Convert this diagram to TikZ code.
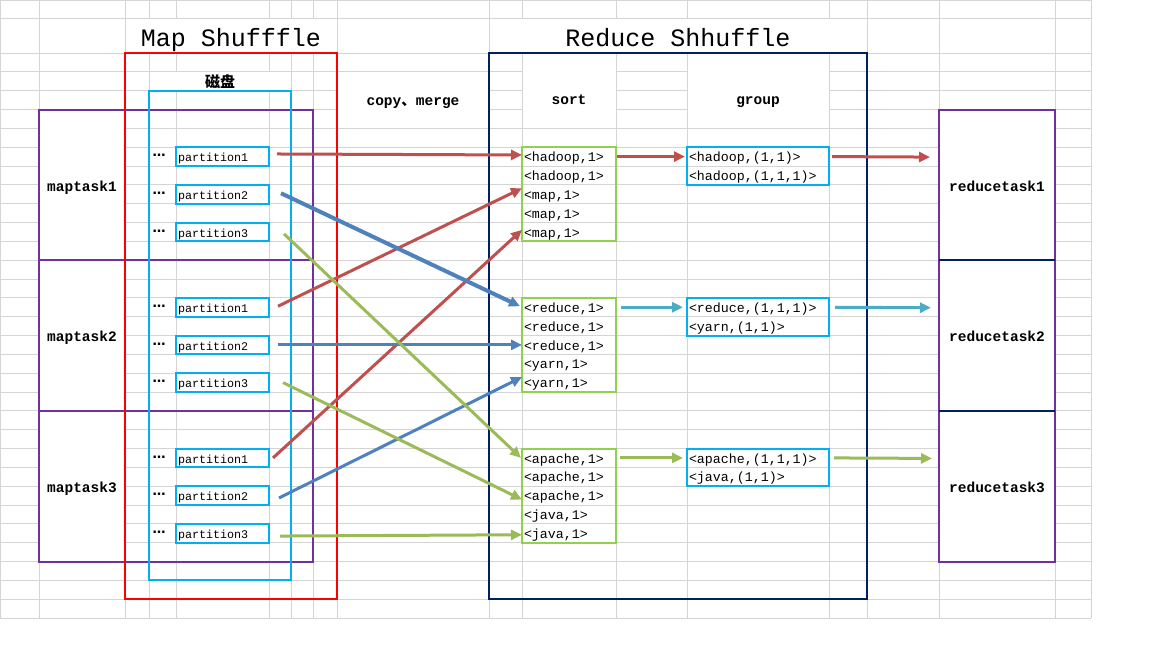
\documentclass[tikz,border=0pt]{standalone}
\usepackage{fontspec}
\setmainfont{Liberation Mono}
\newfontfamily\cjk{Noto Sans CJK SC}
\newfontfamily\dejavu{DejaVu Sans}
\usetikzlibrary{arrows.meta,calc}
\definecolor{gridc}{HTML}{D4D4D4}
\definecolor{boxred}{HTML}{FF0000}
\definecolor{boxcyan}{HTML}{00B0F0}
\definecolor{boxpurple}{HTML}{7030A0}
\definecolor{boxnavy}{HTML}{002060}
\definecolor{boxgreen}{HTML}{92D050}
\definecolor{arrred}{HTML}{C0504D}
\definecolor{arrblue}{HTML}{4F81BD}
\definecolor{arrgreen}{HTML}{9BBB59}
\definecolor{arrteal}{HTML}{4BACC6}
\newcommand{\rowy}[1]{(53+18.8333*(#1))}
\tikzset{
  gridline/.style={draw=gridc, line width=1pt},
  bigbox/.style={anchor=north west, line width=2pt, outer sep=0pt, inner sep=0pt},
  part/.style={draw=boxcyan, line width=2pt, anchor=north west, outer sep=0pt,
    minimum width=93pt, minimum height=18.83pt, text width=89pt, align=left,
    inner xsep=2pt, inner ysep=0pt, text height=10.2pt, text depth=0pt,
    font=\fontsize{11.7}{12}\selectfont},
  sortrow/.style={anchor=north west, outer sep=0pt, minimum height=18.83pt,
    text width=90pt, align=left, inner xsep=2pt, inner ysep=0pt,
    text height=10.2pt, text depth=0pt, font=\fontsize{13.3}{14}\selectfont},
  grouprow/.style={sortrow, text width=138pt},
  dotsnode/.style={anchor=base west, inner sep=0pt, font=\dejavu\bfseries\fontsize{13}{14}\selectfont},
  lab/.style={anchor=base, inner sep=0pt, font=\bfseries\fontsize{14.5}{16}\selectfont},
  ttl/.style={anchor=base, inner sep=0pt, font=\fontsize{25}{30}\selectfont},
  arr/.style={-{Triangle[length=11pt,width=10pt]}, line width=3pt},
}
\begin{document}
\begin{tikzpicture}[x=1pt,y=-1pt]
\useasboundingbox (0,0) rectangle (1152,648);
\fill[white] (0,0) rectangle (1152,648);
% spreadsheet grid
\foreach \x in {0,39,125,149,176,269,291,313,337,489,522,616,687,829,867,939,1055,1091}
  \draw[gridline] (\x,0) -- (\x,618);
\draw[gridline] (0,0) -- (1091,0);
\draw[gridline] (0,18) -- (1091,18);
\foreach \k in {0,...,30}
  \draw[gridline] (0,{\rowy{\k}}) -- (1091,{\rowy{\k}});
% merged cells
\fill[white] (125.5,18.5) rectangle (336.5,52.5);
\fill[white] (489.5,18.5) rectangle (866.5,52.5);
\fill[white] (149.5,{\rowy{1}+0.5}) rectangle (290.5,{\rowy{2}-0.5});
\fill[white] (337.5,{\rowy{1}+0.5}) rectangle (488.5,{\rowy{4}-0.5});
\fill[white] (522.5,53.5) rectangle (615.5,{\rowy{4}-0.5});
\fill[white] (687.5,53.5) rectangle (828.5,{\rowy{4}-0.5});
\foreach \r in {3,11,19} {
  \fill[white] (39.5,{\rowy{\r}+0.5}) rectangle (124.5,{\rowy{\r+8}-0.5});
  \fill[white] (939.5,{\rowy{\r}+0.5}) rectangle (1054.5,{\rowy{\r+8}-0.5});
}
% maptask boxes
\node[bigbox, draw=boxpurple, minimum width=274pt, minimum height=150.67pt] (mt1) at (39,{\rowy{3}}) {};
\node[bigbox, draw=boxpurple, minimum width=274pt, minimum height=150.67pt] (mt2) at (39,{\rowy{11}}) {};
\node[bigbox, draw=boxpurple, minimum width=274pt, minimum height=150.67pt] (mt3) at (39,{\rowy{19}}) {};
% map shuffle and disk boxes
\node[bigbox, draw=boxred, minimum width=212pt, minimum height=546.17pt] (mapsh) at (125,53) {};
\node[bigbox, draw=boxcyan, minimum width=142pt, minimum height=489.67pt] (disk) at (149,{\rowy{2}}) {};
% reduce shuffle box
\node[bigbox, draw=boxnavy, minimum width=378pt, minimum height=546.17pt] (redsh) at (489,53) {};
% reducetask boxes
\node[bigbox, draw=boxpurple, minimum width=116pt, minimum height=150.67pt] (rt1) at (939,{\rowy{3}}) {};
\node[bigbox, draw=boxpurple, minimum width=116pt, minimum height=150.67pt] (rt2) at (939,{\rowy{11}}) {};
\node[bigbox, draw=boxpurple, minimum width=116pt, minimum height=150.67pt] (rt3) at (939,{\rowy{19}}) {};
\draw[draw=boxnavy, line width=2pt] (rt1.south west) -- (rt1.south east);
\draw[draw=boxnavy, line width=2pt] (rt2.south west) -- (rt2.south east);
% sort and group boxes
\node[bigbox, draw=boxgreen, minimum width=94pt, minimum height=94.17pt] (sb1) at (522,{\rowy{5}}) {};
\node[bigbox, draw=boxgreen, minimum width=94pt, minimum height=94.17pt] (sb2) at (522,{\rowy{13}}) {};
\node[bigbox, draw=boxgreen, minimum width=94pt, minimum height=94.17pt] (sb3) at (522,{\rowy{21}}) {};
\node[bigbox, draw=boxcyan, minimum width=142pt, minimum height=37.67pt] (gb1) at (687,{\rowy{5}}) {};
\node[bigbox, draw=boxcyan, minimum width=142pt, minimum height=37.67pt] (gb2) at (687,{\rowy{13}}) {};
\node[bigbox, draw=boxcyan, minimum width=142pt, minimum height=37.67pt] (gb3) at (687,{\rowy{21}}) {};
% titles and labels
\node[ttl] (t1) at (231,46.5) {Map Shufffle};
\node[ttl] (t2) at (678,46.5) {Reduce Shhuffle};
\node[inner sep=0pt, font=\cjk\bfseries\fontsize{15}{16}\selectfont] (disklab) at (220,81.5) {磁盘};
\node[lab] (cm) at (413,105) {copy{\cjk 、}merge};
\node[lab] (sortlab) at (569,104.5) {sort};
\node[lab] (grouplab) at (758,104.5) {group};
\node[lab] (mt1l) at (82,{\rowy{3}+81.5}) {maptask1};
\node[lab] (mt2l) at (82,{\rowy{11}+81.5}) {maptask2};
\node[lab] (mt3l) at (82,{\rowy{19}+81.5}) {maptask3};
\node[lab] (rt1l) at (997,{\rowy{3}+81.5}) {reducetask1};
\node[lab] (rt2l) at (997,{\rowy{11}+81.5}) {reducetask2};
\node[lab] (rt3l) at (997,{\rowy{19}+81.5}) {reducetask3};
% partitions
\foreach \i/\r in {1/5,2/13,3/21} {
  \node[part] (p\i1) at (176,{\rowy{\r}}) {partition1};
  \node[part] (p\i2) at (176,{\rowy{\r+2}}) {partition2};
  \node[part] (p\i3) at (176,{\rowy{\r+4}}) {partition3};
  \foreach \j in {0,2,4}
    \node[dotsnode] (d\i\j) at (152.5,{\rowy{\r+\j}+9.5}) {…};
}
% sort rows
\node[sortrow] (s1r1) at (522,{\rowy{5}}) {<hadoop,1>};
\node[sortrow] (s1r2) at (522,{\rowy{6}}) {<hadoop,1>};
\node[sortrow] (s1r3) at (522,{\rowy{7}}) {<map,1>};
\node[sortrow] (s1r4) at (522,{\rowy{8}}) {<map,1>};
\node[sortrow] (s1r5) at (522,{\rowy{9}}) {<map,1>};
\node[sortrow] (s2r1) at (522,{\rowy{13}}) {<reduce,1>};
\node[sortrow] (s2r2) at (522,{\rowy{14}}) {<reduce,1>};
\node[sortrow] (s2r3) at (522,{\rowy{15}}) {<reduce,1>};
\node[sortrow] (s2r4) at (522,{\rowy{16}}) {<yarn,1>};
\node[sortrow] (s2r5) at (522,{\rowy{17}}) {<yarn,1>};
\node[sortrow] (s3r1) at (522,{\rowy{21}}) {<apache,1>};
\node[sortrow] (s3r2) at (522,{\rowy{22}}) {<apache,1>};
\node[sortrow] (s3r3) at (522,{\rowy{23}}) {<apache,1>};
\node[sortrow] (s3r4) at (522,{\rowy{24}}) {<java,1>};
\node[sortrow] (s3r5) at (522,{\rowy{25}}) {<java,1>};
% group rows
\node[grouprow] (g1r1) at (687,{\rowy{5}}) {<hadoop,(1,1)>};
\node[grouprow] (g1r2) at (687,{\rowy{6}}) {<hadoop,(1,1,1)>};
\node[grouprow] (g2r1) at (687,{\rowy{13}}) {<reduce,(1,1,1)>};
\node[grouprow] (g2r2) at (687,{\rowy{14}}) {<yarn,(1,1)>};
\node[grouprow] (g3r1) at (687,{\rowy{21}}) {<apache,(1,1,1)>};
\node[grouprow] (g3r2) at (687,{\rowy{22}}) {<java,(1,1)>};
% shuffle arrows
\draw[arr, arrred] ([xshift=8pt,yshift=2.6pt]p11.east) -- ([yshift=1.6pt]s1r1.west);
\draw[arr, arrred] ([xshift=9pt,yshift=1pt]p21.east) -- ([yshift=6pt]s1r3.west);
\draw[arr, arrred] ([xshift=4pt]p31.east) -- ([yshift=2pt]s1r5.west);
\draw[arr, arrblue, line width=4pt] ([xshift=12pt,yshift=1pt]p12.east) -- ([xshift=-2pt,yshift=1pt]s2r1.west);
\draw[arr, arrblue] ([xshift=9pt]p22.east) -- (s2r3.west);
\draw[arr, arrblue] ([xshift=10pt,yshift=-2.4pt]p32.east) -- ([yshift=5.5pt]s2r5.west);
\draw[arr, arrgreen] ([xshift=15pt,yshift=-2pt]p13.east) -- ([xshift=-1pt]s3r1.west);
\draw[arr, arrgreen] ([xshift=14pt]p23.east) -- ([yshift=-4pt]s3r3.west);
\draw[arr, arrgreen] ([xshift=11pt,yshift=-2.8pt]p33.east) -- ([yshift=-1.5pt]s3r5.west);
% sort -> group -> reducetask arrows
\draw[arr, arrred] ([xshift=1pt]s1r1.east) -- ([xshift=-2pt]g1r1.west);
\draw[arr, arrred] ([xshift=3pt]g1r1.east) -- ($(rt1.west |- g1r1.east)+(-9pt,-0.5pt)$);
\draw[arr, arrteal] ([xshift=5pt]s2r1.east) -- ([xshift=-4pt]g2r1.west);
\draw[arr, arrteal] ([xshift=6pt]g2r1.east) -- ($(rt2.west |- g2r1.east)+(-8pt,-0.5pt)$);
\draw[arr, arrgreen] ([xshift=4pt]s3r1.east) -- ([xshift=-4pt]g3r1.west);
\draw[arr, arrgreen] ([xshift=5pt]g3r1.east) -- ($(rt3.west |- g3r1.east)+(-7pt,-0.5pt)$);
\end{tikzpicture}
\end{document}
